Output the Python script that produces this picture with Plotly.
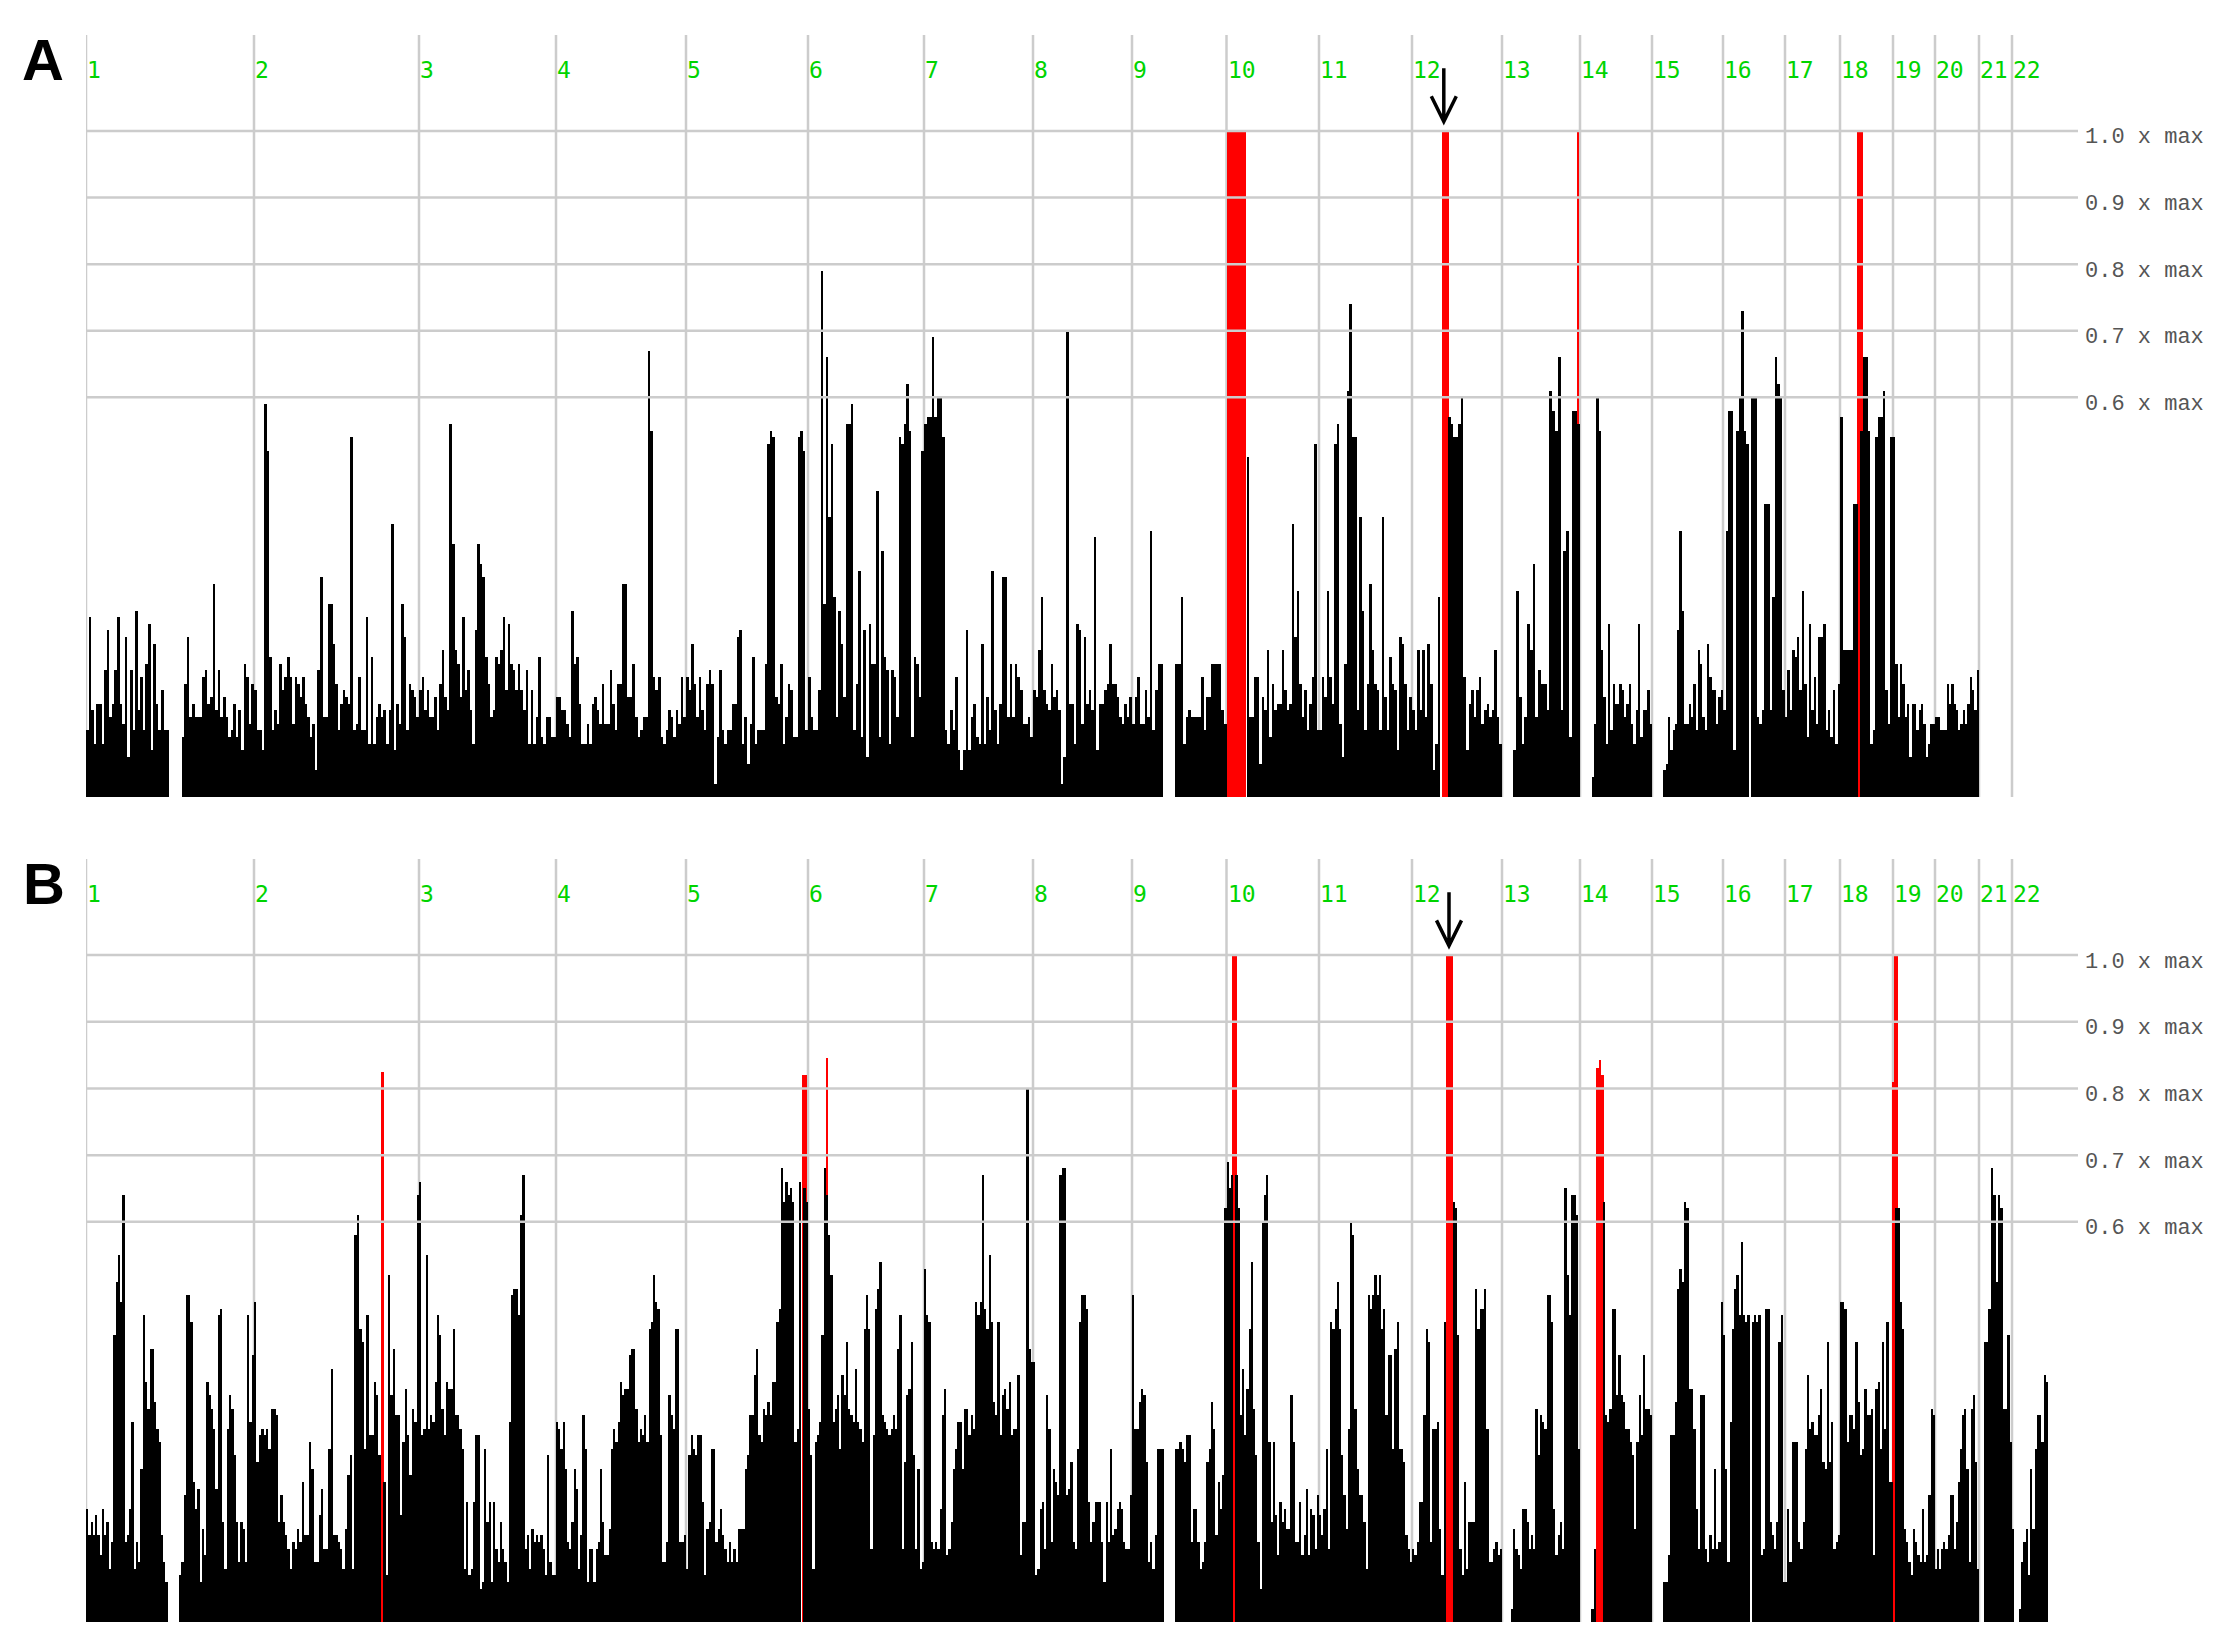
import plotly.graph_objects as go

W, H = 2214, 1627

# ---------------- axis data ----------------
chrom_labels = [str(i) for i in range(1, 23)]
# start of each chromosome along the genome axis (plot units)
chrom_start = [0, 168, 333, 470, 600, 722, 838, 947, 1046, 1140.5, 1233, 1326,
               1416, 1494, 1566, 1637, 1699, 1754, 1807, 1849, 1893, 1926]
genome_end = 1962
axis_end = 1992
grid_levels = [0.6, 0.7, 0.8, 0.9, 1.0]
grid_text = ["0.6 x max", "0.7 x max", "0.8 x max", "0.9 x max", "1.0 x max"]

# ---------------- panel A values (% of max, per chromosome) ----------------
A_chr1 = [10,27,13,8,14,14,8,19,25,12,14,19,27,14,11,24,6,19,10,28,13,18,10,20,26,7,23,14,10,16,10,10,
          0,0,0,0,0,9,17,24,12,14,12,12,12,18,19,14,15,32,13,19,12,15,12,9,10,14,9,13,7,20,18,11,17]
A_chr2 = [16,10,10,7,59,52,21,10,13,11,20,16,18,21,18,11,18,17,15,18,14,12,9,11,4,19,33,12,12,29,
          29,23,17,10,14,16,15,14,54,10,11,18,10,10,27,8,21,8,12,14,12,13,8,13,41,7,14,11,29,24,10,17,16,15,12]
A_chr3 = [16,18,13,16,12,12,15,10,17,22,15,13,56,38,22,20,15,27,16,19,13,8,25,38,35,33,21,17,12,13,
          21,20,22,27,16,26,20,19,16,20,16,13,19,8,16,8,12,21,9,8,12,12,9,9]
A_chr4 = [15,15,13,13,11,9,28,20,21,14,8,8,11,8,14,15,13,11,17,11,11,19,14,10,17,17,32,32,15,15,
          20,12,9,10,12,12,67,55,18,16,18,9,8,10,13,12,9,13,11,18,12]
A_chr5 = [18,16,23,17,12,18,13,10,17,19,17,2,9,19,10,8,10,10,14,14,24,25,8,12,5,11,21,8,10,10,
          10,20,53,55,54,15,14,20,8,12,17,16,9,9,54,55,52,10]
A_chr6 = [18,12,10,10,16,79,29,66,42,53,30,12,28,23,15,56,56,59,10,17,34,9,25,6,26,20,20,46,9,37,
          21,19,8,19,18,12,54,53,56,62,55,9,21,20,15,52]
A_chr7 = [56,57,57,69,57,60,60,54,10,8,13,10,18,7,4,7,25,7,12,14,9,8,23,8,15,10,34,13,8,14,
          33,33,12,20,12,20,18,16,11,11,12,9]
A_chr8 = [16,15,22,30,16,14,13,20,15,16,13,2,6,70,14,14,8,26,25,11,24,14,16,13,39,7,14,14,16,17,
          23,17,17,15,12,11,14,12,15]
A_chr9 = [11,15,18,11,11,16,12,40,10,16,20,20,0,0,0,0,0,20,20,30,8,12,13,12,12,12,12,18,10,15,
          15,20,20,20,20,13,11]
A_chr10 = [0,0,0,0,0,0,0,0,51,12,12,18,18,5,15,13,22,9,17,13,14,14,22,16,13,14,41,24,31,17,
           12,16,10,14,18,53,10]
A_chr11 = [10,18,15,31,18,14,53,56,11,6,20,61,74,54,54,13,42,28,10,17,32,22,17,16,10,42,15,10,21,17,
           16,7,24,23,17,10,15]
A_chr12 = [13,10,22,13,22,12,23,17,4,8,30,0,0,0,57,56,54,54,56,60,18,7,14,16,12,16,18,11,13,14,
           12,13,22,12,8]
A_chr13 = [0,0,0,0,7,31,15,8,12,26,22,35,12,19,17,17,13,61,58,55,66,13,37,40,9,58,58,56]
A_chr14 = [0,0,0,0,0,3,11,60,55,22,15,8,26,10,17,14,14,17,16,12,14,17,11,8,13,26,9,13,13,16,11]
A_chr15 = [0,0,0,0,0,4,5,12,7,10,11,25,40,28,11,11,14,12,17,10,22,20,12,10,23,18,16,16,11,15,16]
A_chr16 = [13,40,58,58,7,55,60,73,55,53,0,60,60,12,11,13,44,44,13,30,66,62,60,16]
A_chr17 = [12,19,13,22,21,24,16,31,17,9,26,13,18,11,24,24,26,10,13,9,16,8,17]
A_chr18 = [57,22,22,22,22,44,44,0,55,66,66,55,8,10,54,57,57,61,16,11,54]
A_chr19 = [54,20,12,20,17,12,14,6,14,14,10,13,14,11,6,8,11,11]
A_chr20 = [12,12,10,10,10,17,14,17,14,13,10,11,13,11,14,18,16,13,19]

# ---------------- panel B values (% of max, per chromosome) ----------------
B_chr1 = [17,13,15,13,16,13,10,17,13,15,8,12,43,51,55,48,64,12,13,17,30,8,12,9,23,46,36,32,41,41,
          33,29,27,13,9,6,0,0,0,0,0,7,9,19,49,49,45,21,17,20,6,14,10,36,34,32,29,20,46,47,
          15,8,29,34,32,25,15,9,15,14,9,46,30,40]
B_chr2 = [48,24,28,29,28,29,26,32,32,31,15,19,15,13,11,8,12,11,14,12,21,13,13,27,23,9,9,16,20,11,
          11,26,38,13,13,12,11,8,14,22,25,8,58,61,44,42,26,46,28,28,36,34,25,0,21,7,52,34,41,31,
          31,16,27,35,28,22,32,30,64]
B_chr3 = [66,28,29,55,29,31,30,36,46,43,32,28,36,35,35,44,31,31,29,26,8,18,7,8,18,28,28,5,6,26,
          15,18,6,18,11,9,15,11,9,6,30,49,50,50,46,61,67,11,13,8,14,12,13,12,13,11,7,25,9,7,7]
B_chr4 = [30,29,26,30,23,12,11,15,23,20,8,13,31,26,6,11,11,6,11,12,23,15,10,10,14,26,29,27,30,36,
          34,35,35,40,41,41,32,27,29,28,31,27,44,45,52,48,47,28,9,9,12,34,31,29,44,44,12,12,13]
B_chr5 = [8,25,28,26,25,28,28,18,7,14,15,26,26,12,14,17,13,11,9,12,9,11,9,14,14,14,23,25,31,31,
          37,41,28,27,32,31,33,31,36,36,45,47,68,63,66,64,65,63,27,29,66,0,65,63]
B_chr6 = [32,25,8,27,28,30,43,68,64,58,52,30,32,34,26,37,34,42,32,31,30,38,30,29,27,44,49,44,11,28,
          47,50,54,31,30,29,28,29,31,29,41,46,11,24,34,35,42,25,11,23,8,9]
B_chr7 = [53,46,45,12,11,12,11,17,31,35,10,11,15,23,26,30,30,23,32,32,28,31,29,48,46,48,67,47,44,55,
          45,33,31,45,28,34,35,32,36,28,29,29,37,10,15,15,80,41,39]
B_chr8 = [39,7,8,17,18,11,34,29,12,23,21,19,67,68,68,19,20,24,12,11,26,45,49,49,47,18,12,15,18,18,
          18,12,6,18,12,26,13,14,17,18,17,12,11,11,19]
B_chr9 = [49,29,29,33,35,34,24,9,12,8,13,26,26,26,0,0,0,0,0,26,26,27,26,24,28,28,12,17,17,12,
          8,9,12,24,26,33,29,13,21,17,22,62]
B_chr10 = [69,65,67,0,67,62,31,38,28,35,44,54,32,25,12,5,60,64,67,27,15,27,16,10,18,15,17,14,14,34,
           27,12,12,18,10,13,20,10,17,16,11,19]
B_chr11 = [16,13,17,26,11,45,44,47,51,44,25,19,14,29,60,58,32,23,19,19,15,8,49,47,49,52,49,52,44,47,
           31,40,40,26,41,45,26,26,24,13,11,9]
B_chr12 = [11,10,12,18,18,31,44,42,12,29,29,30,14,7,45,0,0,0,63,62,43,11,7,21,8,15,15,15,50,44,
           47,47,50,29,9,9,11,12,10,11]
B_chr13 = [0,0,0,0,2,14,11,10,8,17,17,15,11,13,11,32,25,31,30,29,49,49,45,17,10,13,15,11,65,52,
           46,64,64,61,26]
B_chr14 = [0,0,0,0,0,2,11,0,0,0,63,31,30,32,47,47,34,40,34,33,29,29,27,25,14,27,34,28,40,32,32,31]
B_chr15 = [0,0,0,0,0,6,6,10,28,28,33,50,53,51,63,62,35,35,29,17,11,34,34,11,9,13,11,23,11,12,48]
B_chr16 = [43,23,9,30,44,50,52,46,57,46,45,46,0,45,46,45,46,10,11,47,47,15,13,11,15,42,46,6]
B_chr17 = [6,17,9,27,27,27,12,11,15,26,37,29,30,28,28,31,35,24,23,42,24,30,11,12,13]
B_chr18 = [48,48,47,27,31,31,29,42,33,25,26,35,31,31,32,10,35,36,26,42,29,45,21,21]
B_chr19 = [0,62,62,48,44,14,12,9,7,14,12,10,9,17,9,10,19,32,31]
B_chr20 = [8,11,8,11,12,11,13,19,19,11,15,21,26,31,32,23,9,32,34,24,8]
B_chr21 = [0,0,42,42,47,68,64,51,64,62,32,32,43,27]
B_chr22 = [14,0,0,2,9,12,14,7,23,14,26,31,31,27,37,36]

# ---------------- highlighted (red) regions: centre, width, value ----------------
A_red_pos = [1150.5, 1359.3, 1491.65, 1773.8]
A_red_width = [19, 7.2, 2.3, 6.4]
A_red_value = [1.0, 1.0, 1.0, 1.0]
B_red_pos = [296.65, 718.2, 741.0, 1148.5, 1363.5, 1511.35, 1514.05, 1516.7, 1806.7, 1810.0]
B_red_width = [3.3, 5.0, 2.6, 4.4, 7.0, 2.7, 2.7, 2.6, 2.0, 4.6]
B_red_value = [0.825, 0.82, 0.846, 1.0, 1.0, 0.83, 0.843, 0.82, 0.81, 1.0]

# arrow marking the locus on chromosome 12 (offset within chr12)
arrow_offset_A = 31.8
arrow_offset_B = 37.0

A_lists = [A_chr1, A_chr2, A_chr3, A_chr4, A_chr5, A_chr6, A_chr7, A_chr8, A_chr9, A_chr10,
           A_chr11, A_chr12, A_chr13, A_chr14, A_chr15, A_chr16, A_chr17, A_chr18, A_chr19, A_chr20]
B_lists = [B_chr1, B_chr2, B_chr3, B_chr4, B_chr5, B_chr6, B_chr7, B_chr8, B_chr9, B_chr10, B_chr11,
           B_chr12, B_chr13, B_chr14, B_chr15, B_chr16, B_chr17, B_chr18, B_chr19, B_chr20, B_chr21, B_chr22]

chrom_end = chrom_start[1:] + [genome_end]


def bins(lists):
    xs, ys, ws = [], [], []
    for k, vals in enumerate(lists):
        s, e = chrom_start[k], chrom_end[k]
        w = (e - s) / len(vals)
        for i, v in enumerate(vals):
            if v > 0:
                xs.append(s + (i + 0.5) * w)
                ys.append(v / 100.0)
                ws.append(w)
    return xs, ys, ws


YTOP = 1.144
fig = go.Figure()

panels = [
    ("x", "y", A_lists, A_red_pos, A_red_width, A_red_value),
    ("x2", "y2", B_lists, B_red_pos, B_red_width, B_red_value),
]
for xa, ya, lists, rp, rw, rv in panels:
    fig.add_trace(go.Bar(x=rp, y=rv, width=rw, marker=dict(color="#ff0000", line=dict(width=0)),
                         xaxis=xa, yaxis=ya, hoverinfo="skip", showlegend=False))
    bx, by, bw = bins(lists)
    fig.add_trace(go.Bar(x=bx, y=by, width=bw, marker=dict(color="#000000", line=dict(width=0)),
                         xaxis=xa, yaxis=ya, hoverinfo="skip", showlegend=False))

px_l, px_r = 86, 2078
xdom = [px_l / W, px_r / W]
A_dom = [(H - 797) / H, (H - 35) / H]
B_dom = [(H - 1622) / H, (H - 859) / H]

axis_common = dict(showgrid=False, zeroline=False, showticklabels=False, showline=False, ticks="")
fig.update_layout(
    width=W, height=H,
    margin=dict(l=0, r=0, t=0, b=0),
    paper_bgcolor="white", plot_bgcolor="white",
    barmode="overlay", bargap=0, bargroupgap=0,
    showlegend=False,
    xaxis=dict(domain=xdom, range=[0, axis_end], anchor="y", **axis_common),
    yaxis=dict(domain=A_dom, range=[0, YTOP], anchor="x", **axis_common),
    xaxis2=dict(domain=xdom, range=[0, axis_end], anchor="y2", **axis_common),
    yaxis2=dict(domain=B_dom, range=[0, YTOP], anchor="x2", **axis_common),
)

shapes = []
annotations = []
grid_col = "#cccccc"
for xr, yr, arrow_off in [("x", "y", arrow_offset_A), ("x2", "y2", arrow_offset_B)]:
    for s in chrom_start:
        shapes.append(dict(type="line", xref=xr, yref=yr, x0=s, x1=s, y0=0, y1=YTOP,
                           line=dict(color=grid_col, width=2.5), layer="below"))
    for g in grid_levels:
        shapes.append(dict(type="line", xref=xr, yref=yr, x0=0, x1=axis_end, y0=g, y1=g,
                           line=dict(color=grid_col, width=2.5), layer="above"))
    for lab, s in zip(chrom_labels, chrom_start):
        annotations.append(dict(text=lab, xref=xr, yref=yr, x=s, y=1.092, xanchor="left",
                                yanchor="middle", xshift=-1, showarrow=False,
                                font=dict(family="DejaVu Sans Mono", size=23, color="#00d400")))
    for g, t in zip(grid_levels, grid_text):
        annotations.append(dict(text=t, xref=xr, yref=yr, x=axis_end, y=g, xanchor="left",
                                yanchor="middle", xshift=5, yshift=-7, showarrow=False,
                                font=dict(family="Liberation Mono", size=22, color="#555555")))
    ax = chrom_start[11] + arrow_off
    shapes.append(dict(type="path", xref=xr, yref=yr,
                       path=f"M {ax},1.094 L {ax},1.014 M {ax-12.5},1.052 L {ax},1.014 L {ax+12.5},1.052",
                       line=dict(color="black", width=3.5), layer="above"))

annotations.append(dict(text="<b>A</b>", xref="paper", yref="paper", x=42.5 / W, y=1 - 59 / H,
                        xanchor="center", yanchor="middle", showarrow=False,
                        font=dict(family="Liberation Sans", size=58, color="black")))
annotations.append(dict(text="<b>B</b>", xref="paper", yref="paper", x=43.5 / W, y=1 - 883 / H,
                        xanchor="center", yanchor="middle", showarrow=False,
                        font=dict(family="Liberation Sans", size=58, color="black")))

fig.update_layout(shapes=shapes, annotations=annotations)
fig.write_html("out.html", config={"displayModeBar": False},
               post_script="document.body.style.margin='0px';document.body.style.overflow='hidden';")
